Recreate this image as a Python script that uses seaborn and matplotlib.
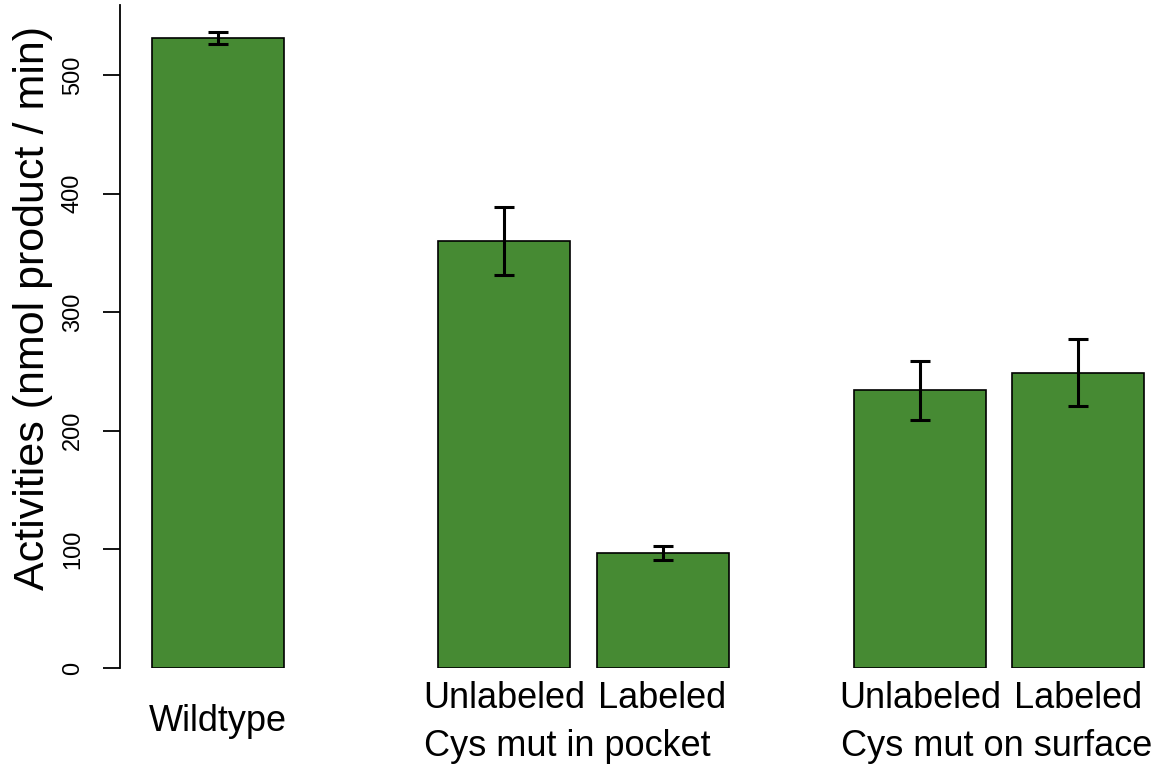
import matplotlib
matplotlib.use("Agg")
import matplotlib.pyplot as plt
import matplotlib.transforms as mtransforms
import numpy as np
import pandas as pd
import seaborn as sns

# bar data
bar_labels = ["Wildtype", "Unlabeled", "Labeled", "Unlabeled", "Labeled"]
activity = [531, 360, 97, 234, 249]
activity_err = [5, 29, 6, 25, 28]
group_labels = ["Cys mut in pocket", "Cys mut on surface"]
y_ticks = [0, 100, 200, 300, 400, 500]
y_label = "Activities (nmol product / min)"

# layout (x in units of one bar width)
bar_pos = [0.74, 2.91, 4.11, 6.06, 7.26]
group_pos = [3.39, 6.64]
bar_green = "#468A33"

sns.set_style("ticks")
plt.rcParams['font.family'] = ['Liberation Sans', 'DejaVu Sans']
plt.rcParams['text.color'] = 'black'
plt.rcParams['ytick.color'] = 'black'
plt.rcParams['ytick.labelcolor'] = 'black'

df = pd.DataFrame({"pos": bar_pos, "activity": activity, "err": activity_err})

fig = plt.figure(figsize=(11.76, 7.78), dpi=100)
W, H = 1176, 778
ax = fig.add_axes([120 / W, (H - 668) / H, 1056 / W, 663 / H])

min_gap = np.min(np.diff(bar_pos))
sns.barplot(data=df, x="pos", y="activity", native_scale=True, width=1 / min_gap,
            color=bar_green, saturation=1, edgecolor="black", linewidth=1.2,
            errorbar=None, ax=ax)

ax.errorbar(df["pos"], df["activity"], yerr=df["err"], fmt="none",
            ecolor="black", elinewidth=2.2, capsize=7, capthick=2.2)

ax.set_xlim(0, 8)
ax.set_ylim(0, 559)
ax.set_xticks([])
ax.set_xlabel("")
ax.set_ylabel("")
ax.set_yticks(y_ticks)
ax.set_yticklabels([str(t) for t in y_ticks], rotation=90, va="center")
ax.tick_params(axis="y", length=12, width=1.3, pad=14, labelsize=17, color="black")
for s in ["top", "right", "bottom"]:
    ax.spines[s].set_visible(False)
ax.spines["left"].set_linewidth(1.3)
ax.spines["left"].set_color("black")

# x-labels below the bars, in data x / pixel y
trans = mtransforms.blended_transform_factory(ax.transData, fig.transFigure)
for i, (p, lab) in enumerate(zip(bar_pos, bar_labels)):
    y_base = 731 if i == 0 else 708
    ax.text(p, (H - y_base) / H, lab, transform=trans, ha="center", va="baseline",
            fontsize=26, color="black", clip_on=False)
for p, lab in zip(group_pos, group_labels):
    ax.text(p, (H - 756) / H, lab, transform=trans, ha="center", va="baseline",
            fontsize=26, color="black", clip_on=False)

fig.text(33 / W, (H - 308) / H, y_label, rotation=90, ha="center", va="center",
         fontsize=31, color="black")

fig.savefig("out.png", dpi=100)
